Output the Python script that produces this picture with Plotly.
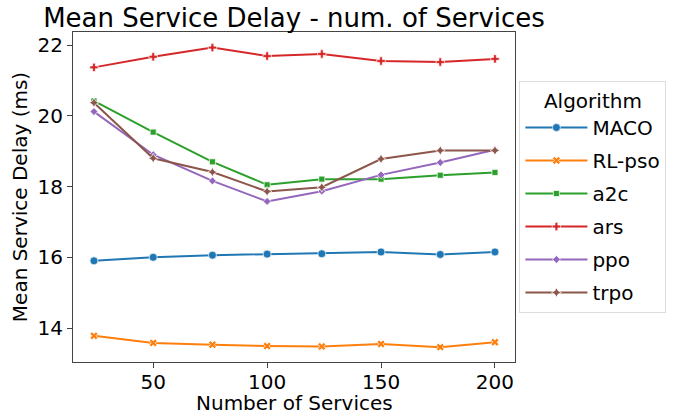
import plotly.graph_objects as go

x_services = [24, 50, 76, 100, 124, 150, 176, 200]

maco   = [15.90, 16.00, 16.06, 16.09, 16.10, 16.15, 16.08, 16.15]
rl_pso = [13.78, 13.58, 13.53, 13.49, 13.48, 13.55, 13.46, 13.60]
a2c    = [20.42, 19.54, 18.70, 18.05, 18.21, 18.21, 18.32, 18.40]
ars    = [21.37, 21.67, 21.93, 21.69, 21.75, 21.55, 21.52, 21.61]
ppo    = [20.12, 18.90, 18.16, 17.58, 17.87, 18.33, 18.68, 19.04]
trpo   = [20.37, 18.80, 18.41, 17.86, 17.98, 18.78, 19.02, 19.02]

names   = ["MACO", "RL-pso", "a2c", "ars", "ppo", "trpo"]
series  = [maco, rl_pso, a2c, ars, ppo, trpo]
colors  = ["#1f77b4", "#ff7f0e", "#2ca02c", "#d62728", "#9467bd", "#8c564b"]
symbols = ["circle", "x", "square", "cross", "diamond", "star-diamond"]
sizes   = [8, 7, 6, 7, 6, 7]

FONT = "DejaVu Sans"

fig = go.Figure()
for name, ys, c, s, sz in zip(names, series, colors, symbols, sizes):
    fig.add_trace(go.Scatter(
        x=x_services, y=ys, name=name, mode="lines+markers",
        legendgroup=name,
        line=dict(color=c, width=2),
        marker=dict(symbol=s, size=sz, color=c, line=dict(color="white", width=0.7)),
    ))

fig.add_annotation(
    text="Number of Services", xref="paper", yref="paper",
    x=0.5, y=-0.123, xanchor="center", yanchor="middle",
    showarrow=False, font=dict(family=FONT, size=20, color="black"),
)

fig.update_layout(
    width=678, height=415,
    margin=dict(l=73, r=163, t=32, b=53),
    paper_bgcolor="white", plot_bgcolor="white",
    font=dict(family=FONT, size=20, color="black"),
    title=dict(text="Mean Service Delay - num. of Services",
               x=0.5, xref="paper", xanchor="center",
               y=0.98, yref="container", yanchor="top",
               font=dict(family=FONT, size=26, color="black")),
    legend=dict(
        title=dict(text="Algorithm", font=dict(size=20), side="top center"),
        x=1.01, xanchor="left", y=0.5, yanchor="middle",
        bordercolor="#dddddd", borderwidth=1, bgcolor="white",
        font=dict(size=20), traceorder="grouped", tracegroupgap=4,
        itemwidth=62,
    ),
    xaxis=dict(
        range=[14.8, 208.8], tickvals=[50, 100, 150, 200],
        showgrid=False, zeroline=False, automargin=False,
        showline=True, linecolor="#444444", linewidth=1, mirror=True,
        ticks="outside", ticklen=5, tickcolor="#444444",
        ticklabelstandoff=-3,
        tickfont=dict(size=20),
    ),
    yaxis=dict(
        range=[13.04, 22.37], tickvals=[14, 16, 18, 20, 22],
        showgrid=False, zeroline=False, automargin=False,
        showline=True, linecolor="#444444", linewidth=1, mirror=True,
        ticks="outside", ticklen=5, tickcolor="#444444",
        title=dict(text="Mean Service Delay (ms)", standoff=4, font=dict(size=20)),
        tickfont=dict(size=20),
    ),
)

fig.write_html(
    "out.html",
    config={"displayModeBar": False},
    post_script="document.body.style.margin='0';document.body.style.overflow='hidden';",
)
